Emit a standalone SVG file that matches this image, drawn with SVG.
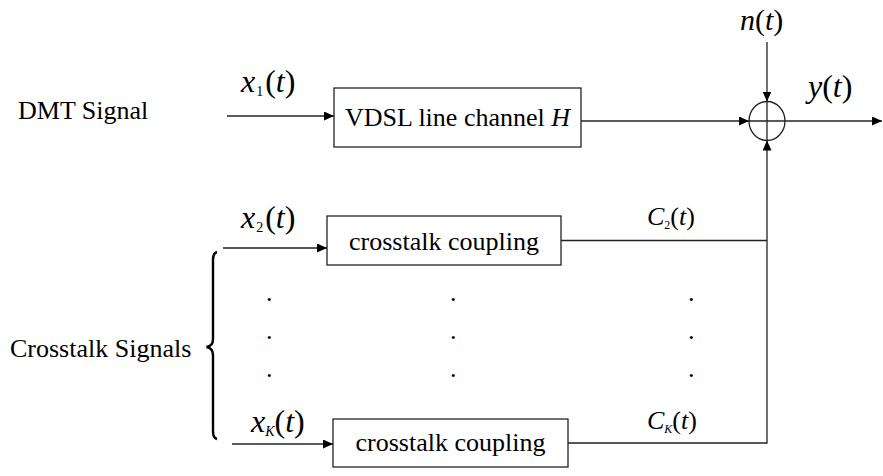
<svg xmlns="http://www.w3.org/2000/svg" width="883" height="476" viewBox="0 0 883 476" font-family="'Liberation Serif', 'DejaVu Serif', serif">
<style>
text{font-family:'Liberation Serif','DejaVu Serif',serif;fill:#000}
.t{font-size:26px}
.m{font-size:30px}
.x{font-size:32px}
.c{font-size:26px}
.i{font-style:italic}
.box{fill:#fff;stroke:#222;stroke-width:1.3}
.ln{fill:none;stroke:#222;stroke-width:1.3}
</style>
<defs>
<marker id="ah" markerUnits="userSpaceOnUse" markerWidth="12" markerHeight="10" refX="10" refY="4.5" orient="auto">
<path d="M0,0 L10,4.5 L0,9 Z" fill="#000"/>
</marker>
</defs>
<g id="labels-left">
<text class="t" x="18" y="119">DMT Signal</text>
<text class="t" x="10" y="357">Crosstalk Signals</text>
<path d="M217 252 Q213 253 213 260 L213 339 Q213 346 206.5 347 Q213 348 213 355 L213 431 Q213 438 217 439" fill="none" stroke="#000" stroke-width="2.4"/>
</g>
<g id="node-vdsl">
<rect class="box" x="334" y="88" width="247" height="59"/>
<text class="t" x="457.5" y="126" text-anchor="middle">VDSL line channel <tspan class="i">H</tspan></text>
</g>
<g id="node-cc2">
<rect class="box" x="327" y="216" width="234" height="49"/>
<text class="t" x="444" y="250" text-anchor="middle">crosstalk coupling</text>
</g>
<g id="node-cck">
<rect class="box" x="333" y="419" width="235" height="48"/>
<text class="t" x="450.5" y="451" text-anchor="middle">crosstalk coupling</text>
</g>
<g id="node-sum">
<ellipse cx="767" cy="121" rx="18" ry="19.5" fill="#fff" stroke="#222" stroke-width="1.3"/>
<line class="ln" x1="749" y1="121" x2="785" y2="121"/>
<line class="ln" x1="767" y1="101.5" x2="767" y2="140.5"/>
</g>
<g id="connectors">
<line class="ln" x1="227" y1="116" x2="334" y2="116" marker-end="url(#ah)"/>
<line class="ln" x1="581" y1="121" x2="749" y2="121" marker-end="url(#ah)"/>
<line class="ln" x1="767" y1="42" x2="767" y2="101.5" marker-end="url(#ah)"/>
<line class="ln" x1="785" y1="121" x2="882" y2="121" marker-end="url(#ah)"/>
<line class="ln" x1="223" y1="248" x2="327" y2="248" marker-end="url(#ah)"/>
<line class="ln" x1="561" y1="240.5" x2="767" y2="240.5"/>
<line class="ln" x1="232" y1="444" x2="333" y2="444" marker-end="url(#ah)"/>
<path class="ln" d="M568 443 L767 443 L767 140.5" marker-end="url(#ah)"/>
</g>
<g id="signal-labels">
<text class="x" x="241" y="92"><tspan class="i">x</tspan><tspan font-size="14" dx="1" dy="4">1</tspan><tspan dx="2" dy="-4">(</tspan><tspan class="i">t</tspan>)</text>
<text class="m" x="740" y="30"><tspan class="i">n</tspan>(<tspan class="i">t</tspan>)</text>
<text class="x" x="808" y="97"><tspan class="i">y</tspan>(<tspan class="i">t</tspan>)</text>
<text class="x" x="241" y="228"><tspan class="i">x</tspan><tspan font-size="14" dx="1" dy="4">2</tspan><tspan dx="2" dy="-4">(</tspan><tspan class="i">t</tspan>)</text>
<text class="x" x="251" y="432"><tspan class="i">x</tspan><tspan class="i" font-size="14" dy="4">K</tspan><tspan dy="-4">(</tspan><tspan class="i">t</tspan>)</text>
<text class="c" x="647" y="225"><tspan class="i">C</tspan><tspan font-size="12" dy="4">2</tspan><tspan dy="-4">(</tspan><tspan class="i">t</tspan>)</text>
<text class="c" x="647" y="429"><tspan class="i">C</tspan><tspan class="i" font-size="12" dy="4">K</tspan><tspan dy="-4">(</tspan><tspan class="i">t</tspan>)</text>
</g>
<g id="dots">
<text class="t" x="266" y="301">.</text><text class="t" x="266" y="339">.</text><text class="t" x="266" y="377">.</text>
<text class="t" x="450" y="301">.</text><text class="t" x="450" y="339">.</text><text class="t" x="450" y="377">.</text>
<text class="t" x="688" y="301">.</text><text class="t" x="688" y="339">.</text><text class="t" x="688" y="377">.</text>
</g>
</svg>
